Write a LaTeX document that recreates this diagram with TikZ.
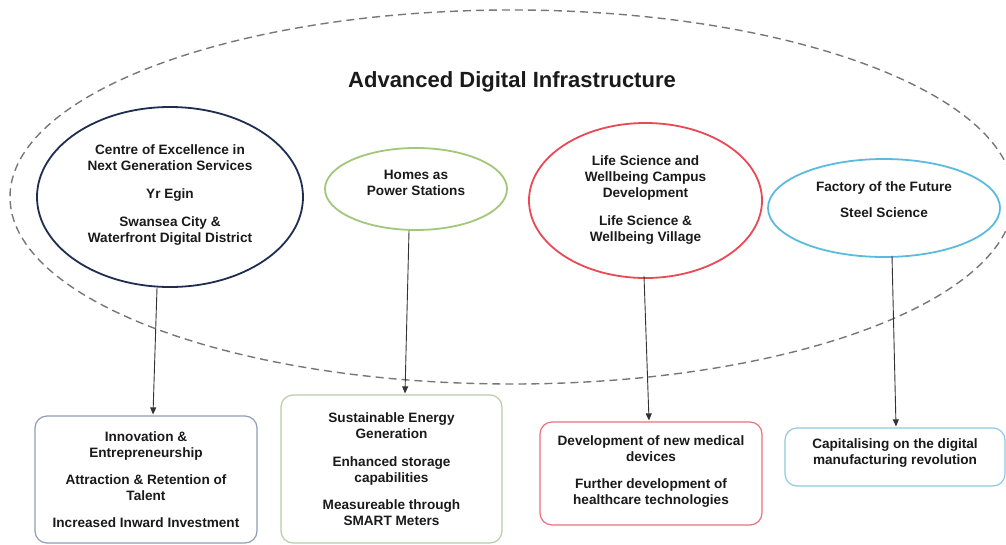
\documentclass[tikz,border=0pt]{standalone}
\usepackage{fontspec}
\setmainfont{Liberation Sans}
\usetikzlibrary{shapes.geometric,arrows.meta}
\definecolor{navyc}{HTML}{1F2D50}
\definecolor{greenc}{HTML}{A3C77A}
\definecolor{redc}{HTML}{E84A55}
\definecolor{bluec}{HTML}{5BBBDD}
\definecolor{boxnavy}{HTML}{8C9DB5}
\definecolor{boxgreen}{HTML}{B8CBA5}
\definecolor{boxred}{HTML}{E8707A}
\definecolor{boxblue}{HTML}{8FC8E0}
\definecolor{dashc}{HTML}{777777}
\definecolor{txt}{HTML}{1A1A1A}
\definecolor{arrc}{HTML}{333333}
\tikzset{
  bodytext/.style={font=\fontsize{13.6}{16}\selectfont\bfseries, text=txt, align=center},
  ell/.style={ellipse, draw, line width=1.8pt, inner sep=0pt, bodytext},
  rbox/.style={rectangle, rounded corners=12pt, draw, line width=1.2pt, inner sep=0pt, bodytext},
  conn/.style={draw=arrc, line width=0.9pt, -{Triangle[length=7pt,width=6pt]}},
}
\begin{document}
\begin{tikzpicture}[x=1pt,y=-1pt]
\useasboundingbox (0,0) rectangle (1006,544);
% outer dashed ellipse
\node[ellipse, draw=dashc, line width=1.4pt, dash pattern=on 8pt off 5pt,
      minimum width=1004pt, minimum height=374pt, inner sep=0pt] (outer) at (512,197) {};
\node[font=\fontsize{22}{26}\selectfont\bfseries, text=txt] (title) at (512,82) {Advanced Digital Infrastructure};
% ellipses
\node[ell, draw=navyc, minimum width=266pt, minimum height=180pt] (e1) at (170,197)
  {Centre of Excellence in\\Next Generation Services\\[12pt]Yr Egin\\[12pt]Swansea City \&\\Waterfront Digital District\\[-9pt]\mbox{}};
\node[ell, draw=greenc, minimum width=182pt, minimum height=82pt] (e2) at (416,189)
  {Homes as\\Power Stations\\[-4pt]\mbox{}};
\node[ell, draw=redc, minimum width=233pt, minimum height=155pt] (e3) at (645.5,200.5)
  {Life Science and\\Wellbeing Campus\\Development\\[12pt]Life Science \&\\Wellbeing Village\\[-12pt]\mbox{}};
\node[ell, draw=bluec, minimum width=232pt, minimum height=98pt] (e4) at (884,208)
  {Factory of the Future\\[10pt]Steel Science\\\mbox{}};
% boxes
\node[rbox, draw=boxnavy, minimum width=222pt, minimum height=127pt] (b1) at (146,479.5)
  {Innovation \&\\Entrepreneurship\\[11pt]Attraction \& Retention of\\Talent\\[11pt]Increased Inward Investment};
\node[rbox, draw=boxgreen, minimum width=221pt, minimum height=148pt] (b2) at (391.5,469)
  {Sustainable Energy\\Generation\\[12pt]Enhanced storage\\capabilities\\[11pt]Measureable through\\SMART Meters};
\node[rbox, draw=boxred, minimum width=222pt, minimum height=103pt] (b3) at (651,473.5)
  {Development of new medical\\devices\\[11pt]Further development of\\healthcare technologies\\[-10pt]\mbox{}};
\node[rbox, draw=boxblue, minimum width=220pt, minimum height=58pt] (b4) at (895,457)
  {Capitalising on the digital\\manufacturing revolution\\[-6pt]\mbox{}};
% connectors
\draw[conn] ([xshift=-13pt]e1.south) -- ([xshift=7pt,yshift=1pt]b1.north);
\draw[conn] ([xshift=-7pt]e2.south) -- ([xshift=13.5pt,yshift=1pt]b2.north);
\draw[conn] ([xshift=-1.5pt,yshift=3pt]e3.south) -- ([xshift=-2pt,yshift=1pt]b3.north);
\draw[conn] ([xshift=8pt,yshift=2pt]e4.south) -- ([xshift=1pt,yshift=1pt]b4.north);
\end{tikzpicture}
\end{document}
